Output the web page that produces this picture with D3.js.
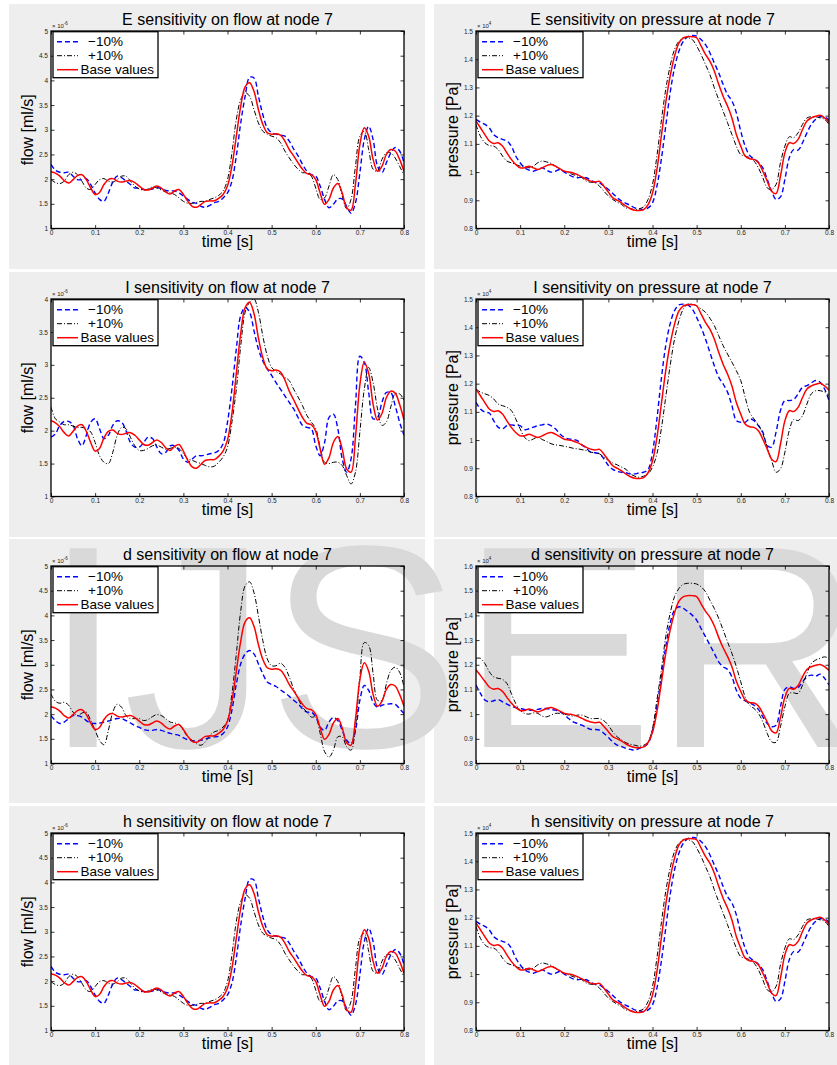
<!DOCTYPE html>
<html>
<head>
<meta charset="utf-8">
<script src="https://cdn.jsdelivr.net/npm/d3@7"></script>
<style>
  body { margin: 0; background: #fff; }
  text { font-family: "Liberation Sans", Arial, Helvetica, sans-serif; }
</style>
</head>
<body>
<div id="chart"></div>
<script>
// sample times (s)
var time = [0, 0.01, 0.02, 0.03, 0.04, 0.05, 0.06, 0.07, 0.08, 0.09,
  0.1, 0.11, 0.12, 0.13, 0.14, 0.15, 0.16, 0.17, 0.18, 0.19,
  0.2, 0.21, 0.22, 0.23, 0.24, 0.25, 0.26, 0.27, 0.28, 0.29,
  0.3, 0.31, 0.32, 0.33, 0.34, 0.35, 0.36, 0.37, 0.38, 0.39,
  0.4, 0.41, 0.42, 0.43, 0.44, 0.45, 0.46, 0.47, 0.48, 0.49,
  0.5, 0.51, 0.52, 0.53, 0.54, 0.55, 0.56, 0.57, 0.58, 0.59,
  0.6, 0.61, 0.62, 0.63, 0.64, 0.65, 0.66, 0.67, 0.68, 0.69,
  0.7, 0.71, 0.72, 0.73, 0.74, 0.75, 0.76, 0.77, 0.78, 0.79, 0.8];

// flow (x 1e-6)
var flowBase = [2.15, 2.12, 2.06, 1.97, 1.92, 1.99, 2.07, 2.09, 1.99, 1.82,
  1.69, 1.73, 1.89, 1.99, 2.01, 1.96, 1.94, 1.96, 1.97, 1.93,
  1.86, 1.79, 1.78, 1.82, 1.86, 1.82, 1.74, 1.70, 1.76, 1.79,
  1.69, 1.55, 1.45, 1.43, 1.49, 1.55, 1.56, 1.56, 1.61, 1.69,
  1.86, 2.26, 2.87, 3.48, 3.87, 3.95, 3.78, 3.41, 3.11, 2.94,
  2.91, 2.92, 2.89, 2.77, 2.60, 2.47, 2.33, 2.20, 2.11, 2.09,
  1.99, 1.72, 1.49, 1.59, 1.82, 1.91, 1.72, 1.42, 1.37, 1.90,
  2.70, 3.04, 2.87, 2.40, 2.16, 2.26, 2.50, 2.60, 2.57, 2.40, 2.16];

var eFlowMinus = [2.30, 2.18, 2.14, 2.13, 2.14, 2.06, 1.99, 1.99, 2.01, 1.89,
  1.72, 1.59, 1.55, 1.72, 1.94, 2.06, 2.03, 1.96, 1.89, 1.82,
  1.82, 1.79, 1.79, 1.80, 1.84, 1.80, 1.77, 1.76, 1.76, 1.72,
  1.66, 1.59, 1.53, 1.51, 1.45, 1.43, 1.47, 1.52, 1.55, 1.62,
  1.72, 1.96, 2.47, 3.14, 3.68, 4.06, 4.05, 3.68, 3.31, 3.04,
  2.94, 2.91, 2.89, 2.87, 2.77, 2.61, 2.47, 2.30, 2.16, 2.09,
  2.06, 1.86, 1.59, 1.42, 1.49, 1.60, 1.60, 1.45, 1.31, 1.52,
  2.13, 2.80, 3.07, 2.80, 2.26, 2.13, 2.33, 2.53, 2.64, 2.57, 2.33];

var eFlowPlus = [1.99, 1.93, 1.91, 1.96, 2.09, 2.14, 2.09, 1.96, 1.82, 1.79,
  1.89, 1.99, 2.01, 1.96, 1.94, 1.99, 2.06, 2.06, 1.96, 1.86,
  1.80, 1.78, 1.80, 1.84, 1.82, 1.78, 1.74, 1.72, 1.69, 1.62,
  1.55, 1.51, 1.51, 1.53, 1.55, 1.55, 1.59, 1.62, 1.67, 1.76,
  1.99, 2.53, 3.21, 3.61, 3.75, 3.68, 3.41, 3.14, 2.97, 2.91,
  2.87, 2.84, 2.74, 2.57, 2.43, 2.30, 2.20, 2.13, 2.13, 2.06,
  1.82, 1.59, 1.62, 1.86, 2.09, 1.99, 1.66, 1.40, 1.59, 2.26,
  2.87, 2.97, 2.60, 2.20, 2.16, 2.40, 2.53, 2.53, 2.43, 2.26, 2.09];

var iFlowMinus = [1.90, 1.95, 2.08, 2.14, 2.14, 2.08, 1.88, 1.77, 1.93, 2.13,
  2.18, 2.03, 1.88, 1.93, 2.08, 2.15, 2.13, 2.00, 1.82, 1.75,
  1.75, 1.82, 1.90, 1.88, 1.75, 1.65, 1.67, 1.77, 1.77, 1.70,
  1.57, 1.52, 1.57, 1.62, 1.62, 1.63, 1.65, 1.66, 1.70, 1.80,
  2.13, 2.63, 3.24, 3.75, 3.87, 3.80, 3.52, 3.24, 3.06, 2.94,
  2.84, 2.73, 2.63, 2.53, 2.43, 2.33, 2.20, 2.08, 2.05, 2.03,
  1.77, 1.62, 1.82, 2.20, 2.25, 2.03, 1.57, 1.37, 1.57, 2.38,
  3.13, 3.04, 2.58, 2.18, 2.20, 2.43, 2.58, 2.58, 2.38, 2.13, 1.93];

var iFlowPlus = [2.36, 2.18, 2.13, 2.09, 2.09, 2.07, 2.05, 2.05, 2.03, 1.98,
  1.82, 1.62, 1.52, 1.50, 1.67, 1.93, 2.05, 2.03, 1.90, 1.77,
  1.70, 1.70, 1.73, 1.77, 1.78, 1.75, 1.72, 1.73, 1.75, 1.73,
  1.65, 1.57, 1.55, 1.52, 1.50, 1.47, 1.45, 1.46, 1.52, 1.60,
  1.75, 2.13, 2.63, 3.29, 3.80, 3.95, 4.00, 3.80, 3.44, 3.14,
  2.96, 2.90, 2.86, 2.81, 2.76, 2.63, 2.51, 2.38, 2.23, 2.13,
  2.03, 1.75, 1.52, 1.50, 1.52, 1.52, 1.47, 1.32, 1.19, 1.37,
  1.98, 2.63, 2.96, 2.73, 2.33, 2.08, 2.13, 2.36, 2.56, 2.56, 2.46];

var dFlowMinus = [1.97, 1.87, 1.81, 1.84, 1.91, 1.97, 1.97, 1.94, 1.87, 1.82,
  1.81, 1.82, 1.84, 1.86, 1.89, 1.91, 1.91, 1.87, 1.82, 1.77,
  1.73, 1.69, 1.67, 1.67, 1.69, 1.67, 1.64, 1.61, 1.59, 1.57,
  1.52, 1.48, 1.46, 1.46, 1.47, 1.50, 1.52, 1.54, 1.55, 1.61,
  1.74, 2.08, 2.61, 3.02, 3.22, 3.29, 3.22, 3.02, 2.82, 2.65,
  2.60, 2.56, 2.49, 2.43, 2.36, 2.28, 2.21, 2.11, 2.04, 2.04,
  1.94, 1.74, 1.67, 1.84, 1.93, 1.87, 1.67, 1.47, 1.40, 1.67,
  2.28, 2.58, 2.48, 2.24, 2.14, 2.18, 2.20, 2.21, 2.20, 2.11, 2.01];

var dFlowPlus = [2.41, 2.26, 2.22, 2.24, 2.18, 2.04, 1.97, 2.02, 2.04, 1.87,
  1.67, 1.47, 1.38, 1.67, 2.04, 2.20, 2.14, 1.97, 1.91, 1.91,
  1.91, 1.87, 1.89, 1.95, 1.99, 1.97, 1.91, 1.84, 1.82, 1.79,
  1.67, 1.54, 1.47, 1.40, 1.37, 1.44, 1.57, 1.64, 1.67, 1.74,
  1.87, 2.41, 3.22, 4.09, 4.60, 4.68, 4.46, 3.99, 3.49, 3.12,
  2.98, 2.98, 3.03, 2.95, 2.75, 2.51, 2.31, 2.14, 2.04, 1.94,
  1.94, 1.61, 1.24, 1.13, 1.27, 1.54, 1.54, 1.34, 1.27, 1.74,
  2.75, 3.45, 3.39, 2.82, 2.28, 2.28, 2.61, 2.88, 2.95, 2.85, 2.55];

// pressure (x 1e4)
var pressureBase = [1.180, 1.157, 1.133, 1.110, 1.101, 1.104, 1.092, 1.068, 1.045, 1.027,
  1.015, 1.015, 1.021, 1.015, 1.009, 1.015, 1.023, 1.027, 1.021, 1.012,
  1.003, 1.000, 0.997, 0.991, 0.983, 0.974, 0.968, 0.965, 0.967, 0.950,
  0.929, 0.909, 0.900, 0.891, 0.879, 0.870, 0.865, 0.864, 0.867, 0.885,
  0.926, 1.009, 1.127, 1.246, 1.340, 1.411, 1.458, 1.476, 1.480, 1.480,
  1.476, 1.447, 1.417, 1.393, 1.358, 1.311, 1.269, 1.234, 1.192, 1.133,
  1.092, 1.057, 1.047, 1.045, 1.033, 1.003, 0.968, 0.932, 0.924, 0.986,
  1.068, 1.104, 1.101, 1.116, 1.151, 1.181, 1.192, 1.198, 1.201, 1.192, 1.177];

var ePressureMinus = [1.187, 1.177, 1.169, 1.157, 1.133, 1.122, 1.116, 1.110, 1.092, 1.057,
  1.033, 1.015, 1.007, 1.003, 1.009, 1.015, 1.007, 1.000, 1.003, 1.009,
  1.000, 0.991, 0.983, 0.980, 0.982, 0.980, 0.971, 0.964, 0.962, 0.950,
  0.938, 0.924, 0.909, 0.897, 0.889, 0.882, 0.873, 0.870, 0.867, 0.873,
  0.891, 0.950, 1.045, 1.163, 1.281, 1.370, 1.429, 1.464, 1.480, 1.484,
  1.482, 1.470, 1.452, 1.423, 1.387, 1.352, 1.311, 1.275, 1.252, 1.210,
  1.145, 1.092, 1.059, 1.047, 1.035, 1.015, 0.974, 0.932, 0.903, 0.912,
  0.974, 1.051, 1.080, 1.078, 1.104, 1.139, 1.169, 1.187, 1.196, 1.196, 1.184];

var ePressurePlus = [1.169, 1.127, 1.104, 1.094, 1.092, 1.080, 1.057, 1.039, 1.033, 1.027,
  1.021, 1.021, 1.015, 1.021, 1.033, 1.039, 1.036, 1.031, 1.021, 1.009,
  1.003, 0.997, 0.991, 0.986, 0.980, 0.968, 0.964, 0.962, 0.950, 0.932,
  0.915, 0.903, 0.893, 0.885, 0.873, 0.870, 0.867, 0.870, 0.877, 0.903,
  0.956, 1.057, 1.181, 1.293, 1.376, 1.435, 1.464, 1.476, 1.476, 1.470,
  1.447, 1.417, 1.381, 1.346, 1.299, 1.257, 1.216, 1.175, 1.133, 1.092,
  1.062, 1.057, 1.051, 1.039, 1.015, 0.980, 0.944, 0.938, 0.956, 1.033,
  1.092, 1.125, 1.122, 1.139, 1.169, 1.192, 1.196, 1.196, 1.192, 1.187, 1.169];

var iPressureMinus = [1.134, 1.110, 1.099, 1.096, 1.069, 1.046, 1.040, 1.051, 1.054, 1.051,
  1.051, 1.037, 1.040, 1.046, 1.051, 1.054, 1.057, 1.051, 1.040, 1.022,
  1.010, 1.004, 1.002, 0.998, 0.983, 0.971, 0.957, 0.955, 0.951, 0.933,
  0.910, 0.896, 0.889, 0.886, 0.884, 0.880, 0.880, 0.884, 0.886, 0.896,
  0.957, 1.075, 1.217, 1.335, 1.412, 1.459, 1.479, 1.482, 1.479, 1.465,
  1.435, 1.400, 1.358, 1.311, 1.264, 1.223, 1.199, 1.170, 1.122, 1.069,
  1.063, 1.063, 1.075, 1.069, 1.051, 1.028, 0.981, 0.975, 1.028, 1.105,
  1.140, 1.140, 1.144, 1.164, 1.187, 1.193, 1.203, 1.211, 1.205, 1.181, 1.140];

var iPressurePlus = [1.181, 1.170, 1.164, 1.158, 1.146, 1.128, 1.122, 1.116, 1.105, 1.075,
  1.040, 1.010, 0.998, 1.004, 1.010, 1.002, 0.995, 0.987, 0.983, 0.981,
  0.978, 0.975, 0.971, 0.969, 0.966, 0.963, 0.957, 0.955, 0.951, 0.939,
  0.928, 0.919, 0.912, 0.904, 0.896, 0.880, 0.872, 0.868, 0.872, 0.880,
  0.904, 0.951, 1.040, 1.152, 1.264, 1.358, 1.423, 1.465, 1.482, 1.482,
  1.476, 1.465, 1.453, 1.432, 1.406, 1.370, 1.335, 1.305, 1.276, 1.246,
  1.211, 1.152, 1.099, 1.075, 1.054, 1.022, 0.975, 0.928, 0.886, 0.898,
  0.957, 1.034, 1.073, 1.069, 1.087, 1.128, 1.164, 1.175, 1.175, 1.170, 1.158];

var dPressureMinus = [1.118, 1.084, 1.057, 1.050, 1.054, 1.059, 1.050, 1.041, 1.032, 1.027,
  1.023, 1.019, 1.016, 1.016, 1.019, 1.023, 1.023, 1.019, 1.016, 1.009,
  0.999, 0.982, 0.969, 0.962, 0.955, 0.946, 0.938, 0.938, 0.935, 0.922,
  0.905, 0.888, 0.874, 0.868, 0.861, 0.857, 0.854, 0.861, 0.868, 0.881,
  0.935, 1.030, 1.151, 1.273, 1.368, 1.422, 1.435, 1.428, 1.415, 1.401,
  1.381, 1.347, 1.314, 1.280, 1.246, 1.212, 1.192, 1.181, 1.151, 1.097,
  1.064, 1.054, 1.046, 1.036, 1.019, 0.989, 0.962, 0.949, 0.955, 1.030,
  1.100, 1.111, 1.104, 1.108, 1.131, 1.151, 1.158, 1.154, 1.162, 1.145, 1.118];

var dPressurePlus = [1.226, 1.226, 1.205, 1.172, 1.151, 1.145, 1.141, 1.124, 1.084, 1.043,
  1.016, 1.003, 1.000, 1.005, 1.003, 0.992, 0.989, 0.996, 1.003, 1.003,
  1.000, 0.996, 0.992, 0.996, 0.996, 0.989, 0.982, 0.982, 0.982, 0.973,
  0.955, 0.928, 0.908, 0.895, 0.884, 0.878, 0.874, 0.870, 0.874, 0.888,
  0.942, 1.057, 1.178, 1.314, 1.408, 1.476, 1.509, 1.526, 1.530, 1.530,
  1.527, 1.516, 1.496, 1.462, 1.428, 1.388, 1.341, 1.293, 1.246, 1.192,
  1.131, 1.070, 1.036, 1.023, 1.003, 0.969, 0.922, 0.888, 0.886, 0.949,
  1.030, 1.084, 1.086, 1.084, 1.118, 1.165, 1.205, 1.219, 1.226, 1.232, 1.226];

// tick labels
var timeTicks = [0, 0.1, 0.2, 0.3, 0.4, 0.5, 0.6, 0.7, 0.8];
var flowTicks5 = [1, 1.5, 2, 2.5, 3, 3.5, 4, 4.5, 5];
var flowTicks4 = [1, 1.5, 2, 2.5, 3, 3.5, 4];
var pressureTicks15 = [0.8, 0.9, 1, 1.1, 1.2, 1.3, 1.4, 1.5];
var pressureTicks16 = [0.8, 0.9, 1, 1.1, 1.2, 1.3, 1.4, 1.5, 1.6];

var legendLabels = ["\u221210%", "+10%", "Base values"];

var titles = [
  "E sensitivity on flow at node 7", "E sensitivity on pressure at node 7",
  "I sensitivity on flow at node 7", "I sensitivity on pressure at node 7",
  "d sensitivity on flow at node 7", "d sensitivity on pressure at node 7",
  "h sensitivity on flow at node 7", "h sensitivity on pressure at node 7"
];

// panel table (row by row, flow left, pressure right)
var panels = [
  {title: titles[0], yLabel: "flow [ml/s]", exp: "-6", ticks: flowTicks5, series: [eFlowMinus, eFlowPlus, flowBase]},
  {title: titles[1], yLabel: "pressure [Pa]", exp: "4", ticks: pressureTicks15, series: [ePressureMinus, ePressurePlus, pressureBase]},
  {title: titles[2], yLabel: "flow [ml/s]", exp: "-6", ticks: flowTicks4, series: [iFlowMinus, iFlowPlus, flowBase]},
  {title: titles[3], yLabel: "pressure [Pa]", exp: "4", ticks: pressureTicks15, series: [iPressureMinus, iPressurePlus, pressureBase]},
  {title: titles[4], yLabel: "flow [ml/s]", exp: "-6", ticks: flowTicks5, series: [dFlowMinus, dFlowPlus, flowBase]},
  {title: titles[5], yLabel: "pressure [Pa]", exp: "4", ticks: pressureTicks16, series: [dPressureMinus, dPressurePlus, pressureBase]},
  {title: titles[6], yLabel: "flow [ml/s]", exp: "-6", ticks: flowTicks5, series: [eFlowMinus, eFlowPlus, flowBase]},
  {title: titles[7], yLabel: "pressure [Pa]", exp: "4", ticks: pressureTicks15, series: [ePressureMinus, ePressurePlus, pressureBase]}
];

// line styles: -10%, +10%, base
var seriesStyles = [
  {color: "#0000ff", width: 1.4, dash: "5,3"},
  {color: "#000000", width: 1, dash: "5,2,1,2"},
  {color: "#ff0000", width: 1.5, dash: null}
];

// page layout
var width = 837, height = 1065;
var cols = [{x: 9, w: 416, plotX: 51}, {x: 434, w: 403, plotX: 476}];
var rows = [{y: 4, h: 265}, {y: 272, h: 265}, {y: 539, h: 264}, {y: 806, h: 259}];
var plotW = 353, plotH = 197.5;

var svg = d3.select("#chart")
  .append("svg")
    .attr("width", width)
    .attr("height", height);

var defs = svg.append("defs");
var bgLayer = svg.append("g");
var markLayer = svg.append("g");
var fgLayer = svg.append("g");

panels.forEach(function(p, i) {
  drawPanel(p, cols[i % 2], rows[Math.floor(i / 2)], i);
});

// watermark
markLayer.append("text")
  .attr("x", 43)
  .attr("y", 747)
  .attr("font-size", 289)
  .attr("fill", "#d9d9d9")
  .text("IJSER");

function drawPanel(p, col, row, id) {
  var left = col.plotX;
  var top = row.y + 27;

  // gray panel and white axes area
  bgLayer.append("rect")
    .attr("x", col.x).attr("y", row.y)
    .attr("width", col.w).attr("height", row.h)
    .attr("fill", "#eeeeee");
  bgLayer.append("rect")
    .attr("x", left).attr("y", top)
    .attr("width", plotW).attr("height", plotH)
    .attr("fill", "#ffffff");

  var x = d3.scaleLinear().domain([0, 0.8]).range([left, left + plotW]);
  var y = d3.scaleLinear().domain(d3.extent(p.ticks)).range([top + plotH, top]);

  defs.append("clipPath")
    .attr("id", "clip" + id)
    .append("rect")
      .attr("x", left).attr("y", top)
      .attr("width", plotW).attr("height", plotH);

  var g = fgLayer.append("g");

  var line = d3.line()
    .x(function(d, i) { return x(time[i]); })
    .y(function(d) { return y(d); })
    .curve(d3.curveCatmullRom);

  // curves
  p.series.forEach(function(s, k) {
    var st = seriesStyles[k];
    g.append("path")
      .datum(s)
      .attr("clip-path", "url(#clip" + id + ")")
      .attr("d", line)
      .attr("fill", "none")
      .attr("stroke", st.color)
      .attr("stroke-width", st.width)
      .attr("stroke-dasharray", st.dash);
  });

  // axes, ticks drawn inward like matlab
  var fmt = function(d) { return String(d); };
  var axL = g.append("g")
    .attr("transform", "translate(" + left + ",0)")
    .call(d3.axisLeft(y).tickValues(p.ticks).tickFormat(fmt).tickSize(-3.5).tickPadding(3));
  var axB = g.append("g")
    .attr("transform", "translate(0," + (top + plotH) + ")")
    .call(d3.axisBottom(x).tickValues(timeTicks).tickFormat(fmt).tickSize(-3.5).tickPadding(2));
  g.append("g")
    .attr("transform", "translate(" + (left + plotW) + ",0)")
    .call(d3.axisRight(y).tickValues(p.ticks).tickFormat("").tickSize(-3.5));
  g.append("g")
    .attr("transform", "translate(0," + top + ")")
    .call(d3.axisTop(x).tickValues(timeTicks).tickFormat("").tickSize(-3.5));

  g.selectAll(".domain").remove();
  g.selectAll(".tick line").attr("stroke", "#000").attr("stroke-width", 0.8);
  g.selectAll(".tick text")
    .attr("font-family", "Liberation Sans, Arial, sans-serif")
    .attr("font-size", 6.5)
    .attr("fill", "#222");

  // axes frame
  g.append("rect")
    .attr("x", left).attr("y", top)
    .attr("width", plotW).attr("height", plotH)
    .attr("fill", "none")
    .attr("stroke", "#000")
    .attr("stroke-width", 1.3);

  // exponent label
  var ex = g.append("text")
    .attr("x", left + 1)
    .attr("y", top - 3.5)
    .attr("font-size", 6)
    .attr("fill", "#222")
    .text("\u00d7 10");
  ex.append("tspan")
    .attr("dy", -2.5)
    .attr("font-size", 4.5)
    .text(p.exp);

  // title
  g.append("text")
    .attr("x", left + plotW / 2)
    .attr("y", top - 6)
    .attr("text-anchor", "middle")
    .attr("font-size", 16)
    .text(p.title);

  // x label
  g.append("text")
    .attr("x", left + plotW / 2)
    .attr("y", top + plotH + 18)
    .attr("text-anchor", "middle")
    .attr("font-size", 16)
    .text("time [s]");

  // y label
  g.append("text")
    .attr("transform", "translate(" + (left - 18) + "," + (top + plotH / 2) + ") rotate(-90)")
    .attr("text-anchor", "middle")
    .attr("font-size", 16)
    .text(p.yLabel);

  // legend
  var lg = g.append("g")
    .attr("transform", "translate(" + (left + 2) + "," + (top + 0.7) + ")");
  lg.append("rect")
    .attr("width", 105).attr("height", 46)
    .attr("fill", "#fff")
    .attr("stroke", "#000")
    .attr("stroke-width", 1.3);
  legendLabels.forEach(function(label, k) {
    var st = seriesStyles[k];
    var cy = 10 + k * 14;
    lg.append("line")
      .attr("x1", 4).attr("x2", 25)
      .attr("y1", cy).attr("y2", cy)
      .attr("stroke", st.color)
      .attr("stroke-width", st.width)
      .attr("stroke-dasharray", st.dash);
    lg.append("text")
      .attr("x", k < 2 ? 35 : 27.5)
      .attr("y", cy + 4.5)
      .attr("font-size", 13.5)
      .text(label);
  });
}
</script>
</body>
</html>
